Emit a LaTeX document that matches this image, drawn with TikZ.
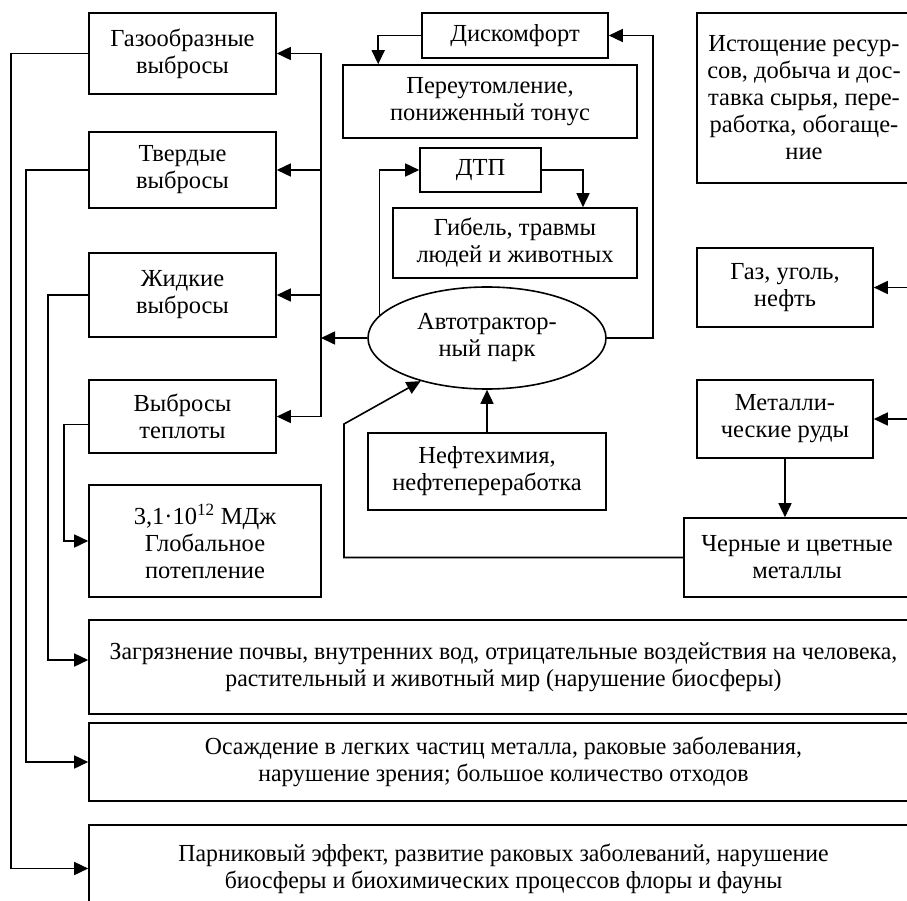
\documentclass[tikz,border=0pt]{standalone}
\usepackage{fontspec}
\setmainfont{Liberation Serif}
\usetikzlibrary{arrows.meta,shapes.geometric}

\tikzset{
  blok/.style={draw, line width=1.6pt, inner sep=0pt, align=center,
    font=\fontsize{24.5}{27}\selectfont},
  nizblok/.style={blok, font=\fontsize{24.5}{27}\selectfont\addfontfeature{FakeStretch=0.97}},
  razmer/.style args={#1x#2}{minimum width=#1pt, minimum height=#2pt},
  linia/.style={line width=1.6pt},
  svyaz/.style={linia, -{Triangle[length=14pt,width=13pt]}}
}

\begin{document}
\begin{tikzpicture}[x=1pt, y=-1pt]
    \useasboundingbox (0,0) rectangle (907,901);
    \fill[white] (0,0) rectangle (907,901);
    \clip (0,0) rectangle (907,901);

    \node[blok, razmer=187x81] (gas) at (182.5,53.5) {Газообразные\\выбросы};
    \node[blok, razmer=187x76] (tverd) at (182.5,170) {Твердые\\выбросы};
    \node[blok, razmer=187x84] (zhid) at (182.5,295) {Жидкие\\выбросы};
    \node[blok, razmer=187x73] (tepl) at (182.5,416.5) {Выбросы\\теплоты};
    \node[blok, razmer=232x112] (glob) at (205,541) {3,1·10\textsuperscript{12} МДж\\Глобальное\\потепление};

    \node[blok, razmer=186x45] (disk) at (515,35.5) {Дискомфорт};
    \node[blok, razmer=294x73] (perut) at (490,101.5) {Переутомление,\\пониженный тонус};
    \node[blok, razmer=121x44] (dtp) at (480.5,170) {ДТП};
    \node[blok, razmer=244x70] (gibel) at (515,243) {Гибель, травмы\\людей и животных};
    \node[blok, ellipse, razmer=238x102] (park) at (487,338) {Автотрактор-\\ный парк};
    \node[blok, razmer=238x77] (neft) at (487,471.5) {Нефтехимия,\\нефтепереработка};

    \node[blok, razmer=214x170] (istoch) at (804,98) {Истощение ресур-\\сов, добыча и дос-\\тавка сырья, пере-\\работка, обогаще-\\ние};
    \node[blok, razmer=176x79] (gaz) at (785,287.5) {Газ, уголь,\\нефть};
    \node[blok, razmer=176x78] (metal) at (785,419) {Металли-\\ческие руды};
    \node[blok, razmer=226x79] (cher) at (797,557.5) {Черные и цветные\\металлы};

    \node[nizblok, razmer=829x94] (zagr) at (503.5,667) {Загрязнение почвы, внутренних вод, отрицательные воздействия на человека,\\растительный и животный мир (нарушение биосферы)};
    \node[nizblok, razmer=829x78] (osazh) at (503.5,762) {Осаждение в легких частиц металла, раковые заболевания,\\нарушение зрения; большое количество отходов};
    \node[nizblok, razmer=829x87] (parn) at (503.5,868.5) {Парниковый эффект, развитие раковых заболеваний, нарушение\\биосферы и биохимических процессов флоры и фауны};

    \coordinate (shina) at (321,0);
    \draw[linia] (gas.east -| shina) -- (tepl.east -| shina);
    \foreach \n in {gas,tverd,zhid,tepl}
      \draw[svyaz] (\n.east -| shina) -- (\n.east);
    \draw[svyaz] (park.west) -- (park.west -| shina);

    \draw[svyaz] (gas.west) -- ++(-77,0) |- (parn.west);
    \draw[svyaz] (tverd.west) -- ++(-62,0) |- (osazh.west);
    \draw[svyaz] (zhid.west) -- ++(-40,0) |- ([yshift=7pt]zagr.west);
    \draw[svyaz] ([yshift=-8pt]tepl.west) -- ++(-24,0) |- (glob.west);

    \draw[svyaz] (disk.west) -| ([xshift=36pt]perut.north west);
    \draw[svyaz] (park.east) -- ++(46,0) |- (disk.east);
    \draw[svyaz] (park.168) |- (dtp.west);
    \draw[svyaz] (dtp.east) -| ([xshift=68pt]gibel.north);
    \draw[svyaz] (neft.north) -- (park.south);
    \draw[svyaz] (cher.west) -| (344,424) -- (park.213);

    \coordinate (kraiGaz) at ([xshift=50pt]gaz.east);
    \coordinate (kraiMetal) at ([xshift=50pt]metal.east);
    \draw[svyaz] (kraiGaz) -- (gaz.east);
    \draw[svyaz] (kraiMetal) -- (metal.east);
    \draw[svyaz] (metal.south) -- (metal.south |- cher.north);
\end{tikzpicture}
\end{document}
